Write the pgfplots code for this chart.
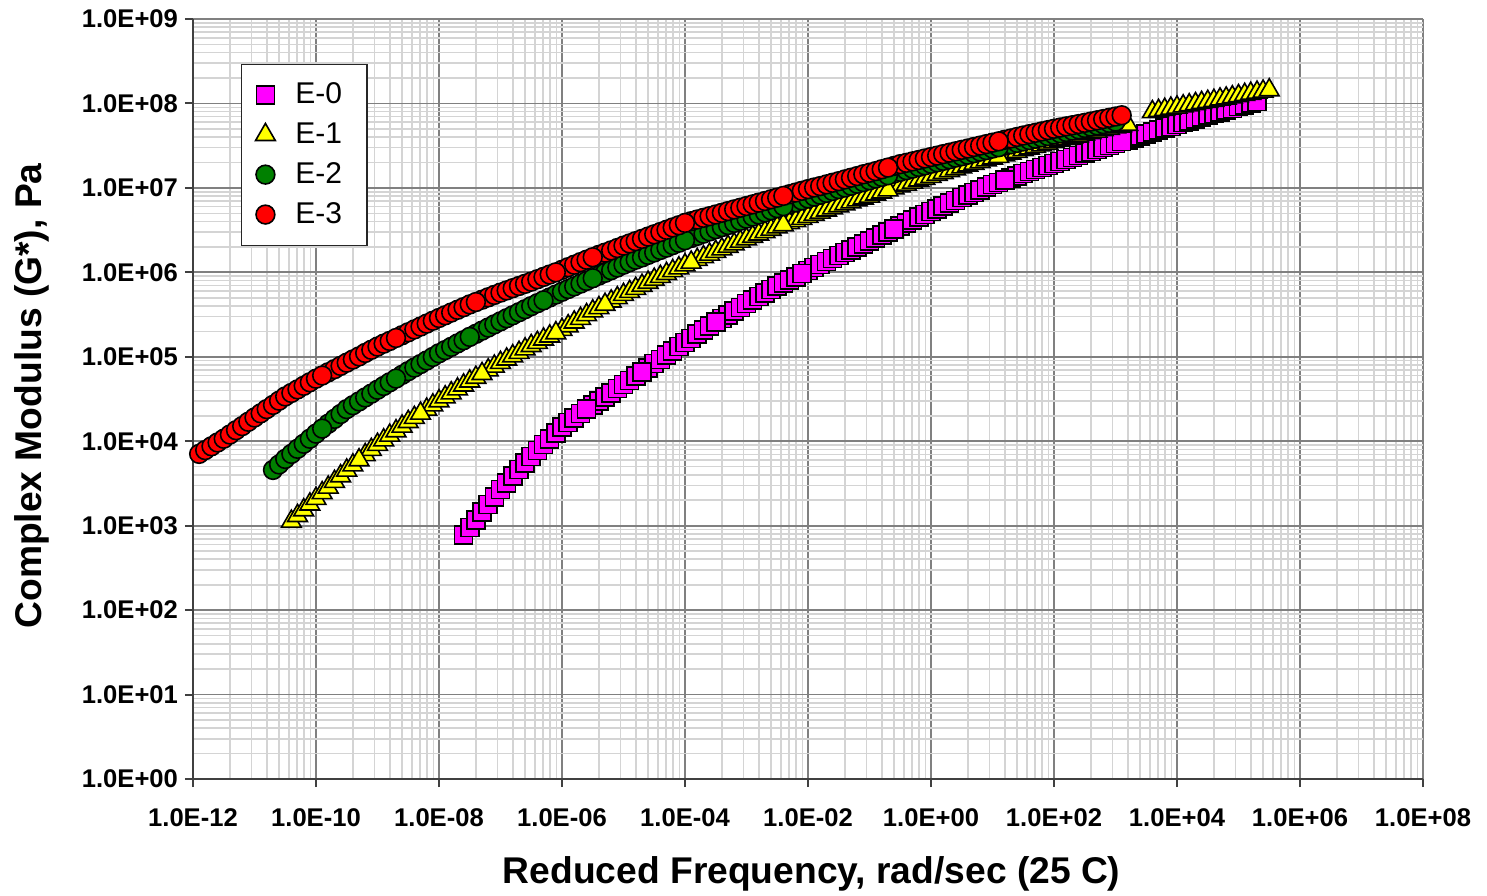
\documentclass[border=0pt]{standalone}
\usepackage{fontspec}
\setmainfont{Liberation Sans}
\usepackage{pgfplots}
\pgfplotsset{compat=1.18}

\definecolor{gridmajor}{RGB}{128,128,128}
\definecolor{gridminor}{RGB}{212,212,212}
\definecolor{axisline}{RGB}{64,64,64}
\definecolor{cE0}{RGB}{255,0,255}
\definecolor{cE1}{RGB}{255,255,0}
\definecolor{cE2}{RGB}{0,128,0}
\definecolor{cE3}{RGB}{255,0,0}

\begin{document}
\begin{tikzpicture}
\useasboundingbox (-96.5pt,-58pt) rectangle (647pt,389.5pt);
\begin{axis}[
  at={(0pt,0pt)}, anchor=south west,
  scale only axis, width=615pt, height=380pt,
  xmode=log, ymode=log,
  xmin=1e-12, xmax=1e8, ymin=1, ymax=1e9,
  axis x line*=bottom, axis y line*=left,
  axis line style={-, axisline, line width=1.1pt},
  tick align=outside,
  major tick length=4pt, minor tick length=0pt,
  tick style={axisline, line width=1pt},
  grid=both,
  major grid style={gridmajor, line width=0.9pt},
  minor grid style={gridminor, line width=0.8pt},
  xtick={1e-12,1e-10,1e-8,1e-6,1e-4,1e-2,1,1e2,1e4,1e6,1e8},
  xticklabels={1.0E-12,1.0E-10,1.0E-08,1.0E-06,1.0E-04,1.0E-02,1.0E+00,1.0E+02,1.0E+04,1.0E+06,1.0E+08},
  minor xtick={4e-12,9e-12,1.6e-11,2.5e-11,3.6e-11,4.9e-11,6.4e-11,8.1e-11,
               4e-10,9e-10,1.6e-9,2.5e-9,3.6e-9,4.9e-9,6.4e-9,8.1e-9,
               4e-8,9e-8,1.6e-7,2.5e-7,3.6e-7,4.9e-7,6.4e-7,8.1e-7,
               4e-6,9e-6,1.6e-5,2.5e-5,3.6e-5,4.9e-5,6.4e-5,8.1e-5,
               4e-4,9e-4,1.6e-3,2.5e-3,3.6e-3,4.9e-3,6.4e-3,8.1e-3,
               0.04,0.09,0.16,0.25,0.36,0.49,0.64,0.81,
               4,9,16,25,36,49,64,81,
               400,900,1600,2500,3600,4900,6400,8100,
               4e4,9e4,1.6e5,2.5e5,3.6e5,4.9e5,6.4e5,8.1e5,
               4e6,9e6,1.6e7,2.5e7,3.6e7,4.9e7,6.4e7,8.1e7},
  ytick={1,1e1,1e2,1e3,1e4,1e5,1e6,1e7,1e8,1e9},
  yticklabels={1.0E+00,1.0E+01,1.0E+02,1.0E+03,1.0E+04,1.0E+05,1.0E+06,1.0E+07,1.0E+08,1.0E+09},
  minor ytick={2,3,4,5,6,7,8,9,
               20,30,40,50,60,70,80,90,
               200,300,400,500,600,700,800,900,
               2e3,3e3,4e3,5e3,6e3,7e3,8e3,9e3,
               2e4,3e4,4e4,5e4,6e4,7e4,8e4,9e4,
               2e5,3e5,4e5,5e5,6e5,7e5,8e5,9e5,
               2e6,3e6,4e6,5e6,6e6,7e6,8e6,9e6,
               2e7,3e7,4e7,5e7,6e7,7e7,8e7,9e7,
               2e8,3e8,4e8,5e8,6e8,7e8,8e8,9e8},
  ticklabel style={font=\bfseries\fontsize{12.8}{14}\selectfont},
  xticklabel style={yshift=-7.5pt},
  xlabel={Reduced Frequency, rad/sec (25 C)},
  ylabel={Complex Modulus (G*), Pa},
  label style={font=\bfseries\fontsize{18.6}{21}\selectfont},
  xlabel style={at={(axis description cs:0.503,-0.138)}, anchor=base},
  ylabel style={at={(axis description cs:-0.131,0.504)}, anchor=center},
  legend style={at={(axis description cs:0.039,0.941)}, anchor=north west,
    draw=black!85, line width=0.6pt, fill=white,
    font=\fontsize{15}{18}\selectfont,
    inner xsep=7pt, inner ysep=7.3pt, row sep=4pt},
  legend cell align=left,
]

% E-0: one block per temperature sweep, highest block first
\addplot[only marks, mark=square*, mark size=4.5pt,
  mark options={fill=cE0, draw=black, line width=0.8pt}] coordinates {
(1580,3.72e7)(2000,3.93e7)(2510,4.14e7)(3160,4.37e7)(3980,4.59e7)(5010,4.83e7)(6310,5.08e7)(7940,5.35e7)(1e4,5.62e7)(1.26e4,5.92e7)(1.58e4,6.22e7)(2e4,6.55e7)(2.51e4,6.89e7)(3.16e4,7.24e7)(3.98e4,7.60e7)(5.01e4,7.97e7)(6.31e4,8.35e7)(7.94e4,8.75e7)(1e5,9.16e7)(1.26e5,9.60e7)(1.58e5,1.01e8)(2e5,1.06e8)
(20,1.31e7)(25.1,1.39e7)(31.6,1.48e7)(39.8,1.56e7)(50.1,1.65e7)(63.1,1.75e7)(79.4,1.85e7)(100,1.95e7)(126,2.06e7)(158,2.18e7)(200,2.30e7)(251,2.43e7)(316,2.57e7)(398,2.71e7)(501,2.86e7)(631,3.01e7)(794,3.18e7)(1000,3.35e7)(1260,3.53e7)
(0.316,3.55e6)(0.398,3.84e6)(0.501,4.15e6)(0.631,4.49e6)(0.794,4.85e6)(1,5.25e6)(1.26,5.66e6)(1.58,6.11e6)(2,6.59e6)(2.51,7.11e6)(3.16,7.67e6)(3.98,8.24e6)(5.01,8.85e6)(6.31,9.51e6)(7.94,1.02e7)(10,1.10e7)(12.6,1.16e7)(15.8,1.24e7)
(0.01,1.05e6)(0.0126,1.14e6)(0.0158,1.24e6)(0.02,1.34e6)(0.0251,1.46e6)(0.0316,1.58e6)(0.0398,1.71e6)(0.0501,1.85e6)(0.0631,2.00e6)(0.0794,2.17e6)(0.1,2.34e6)(0.126,2.55e6)(0.158,2.77e6)(0.2,3.01e6)(0.251,3.27e6)
(3.98e-4,2.84e5)(5.01e-4,3.15e5)(6.31e-4,3.48e5)(7.94e-4,3.85e5)(1e-3,4.27e5)(1.26e-3,4.70e5)(1.58e-3,5.18e5)(2e-3,5.70e5)(2.51e-3,6.28e5)(3.16e-3,6.92e5)(3.98e-3,7.52e5)(5.01e-3,8.17e5)(6.31e-3,8.87e5)(7.94e-3,9.64e5)
(2.51e-5,7.41e4)(3.16e-5,8.32e4)(3.98e-5,9.33e4)(5.01e-5,1.05e5)(6.31e-5,1.17e5)(7.94e-5,1.32e5)(1e-4,1.48e5)(1.26e-4,1.65e5)(1.58e-4,1.85e5)(2e-4,2.06e5)(2.51e-4,2.30e5)(3.16e-4,2.57e5)
(3.16e-6,2.69e4)(3.98e-6,3.01e4)(5.01e-6,3.36e4)(6.31e-6,3.75e4)(7.94e-6,4.19e4)(1e-5,4.68e4)(1.26e-5,5.25e4)(1.58e-5,5.89e4)(2e-5,6.61e4)
(2.51e-8,7.76e2)(3.16e-8,9.55e2)(3.98e-8,1.17e3)(5.01e-8,1.45e3)(6.31e-8,1.78e3)(7.94e-8,2.19e3)(1e-7,2.69e3)(1.26e-7,3.22e3)(1.58e-7,3.85e3)(2e-7,4.61e3)(2.51e-7,5.52e3)(3.16e-7,6.61e3)(3.98e-7,7.76e3)(5.01e-7,9.12e3)(6.31e-7,1.07e4)(7.94e-7,1.26e4)(1e-6,1.48e4)(1.26e-6,1.67e4)(1.58e-6,1.88e4)(2e-6,2.12e4)(2.51e-6,2.39e4)
};
\addlegendentry{\hspace{8pt}E-0\rule{3.5pt}{0pt}}

% E-1
\addplot[only marks, mark=triangle*, mark size=5.7pt,
  mark options={fill=cE1, draw=black, line width=0.8pt}] coordinates {
(3.98e3,7.94e7)(5.01e3,8.20e7)(6.31e3,8.45e7)(7.94e3,8.73e7)(1e4,8.99e7)(1.26e4,9.29e7)(1.58e4,9.57e7)(2e4,9.89e7)(2.51e4,1.02e8)(3.16e4,1.05e8)(3.98e4,1.08e8)(5.01e4,1.12e8)(6.31e4,1.15e8)(7.94e4,1.19e8)(1e5,1.23e8)(1.26e5,1.27e8)(1.58e5,1.31e8)(2e5,1.35e8)(2.51e5,1.39e8)(3.16e5,1.44e8)
(15.8,2.45e7)(20,2.57e7)(25.1,2.69e7)(31.6,2.82e7)(39.8,2.94e7)(50.1,3.08e7)(63.1,3.21e7)(79.4,3.36e7)(100,3.51e7)(126,3.66e7)(158,3.81e7)(200,3.97e7)(251,4.14e7)(316,4.32e7)(398,4.49e7)(501,4.67e7)(631,4.85e7)(794,5.05e7)(1000,5.25e7)(1260,5.43e7)(1580,5.62e7)
(0.251,9.91e6)(0.316,1.05e7)(0.398,1.10e7)(0.501,1.16e7)(0.631,1.23e7)(0.794,1.29e7)(1,1.36e7)(1.26,1.44e7)(1.58,1.51e7)(2,1.59e7)(2.51,1.67e7)(3.16,1.76e7)(3.98,1.85e7)(5.01,1.94e7)(6.31,2.03e7)(7.94,2.13e7)(10,2.24e7)(12.6,2.34e7)
(5.01e-3,3.85e6)(6.31e-3,4.07e6)(7.94e-3,4.32e6)(0.01,4.57e6)(0.0126,4.84e6)(0.0158,5.13e6)(0.02,5.43e6)(0.0251,5.75e6)(0.0316,6.10e6)(0.0398,6.43e6)(0.0501,6.78e6)(0.0631,7.14e6)(0.0794,7.53e6)(0.1,7.94e6)(0.126,8.39e6)(0.158,8.87e6)(0.2,9.38e6)
(1.58e-4,1.41e6)(2e-4,1.52e6)(2.51e-4,1.63e6)(3.16e-4,1.76e6)(3.98e-4,1.88e6)(5.01e-4,2.02e6)(6.31e-4,2.16e6)(7.94e-4,2.32e6)(1e-3,2.48e6)(1.26e-3,2.65e6)(1.58e-3,2.82e6)(2e-3,3.01e6)(2.51e-3,3.21e6)(3.16e-3,3.43e6)(3.98e-3,3.63e6)
(6.31e-6,4.54e5)(7.94e-6,4.97e5)(1e-5,5.43e5)(1.26e-5,5.90e5)(1.58e-5,6.41e5)(2e-5,6.97e5)(2.51e-5,7.57e5)(3.16e-5,8.22e5)(3.98e-5,8.89e5)(5.01e-5,9.61e5)(6.31e-5,1.04e6)(7.94e-5,1.12e6)(1e-4,1.22e6)(1.26e-4,1.31e6)
(1e-6,2.09e5)(1.26e-6,2.31e5)(1.58e-6,2.56e5)(2e-6,2.83e5)(2.51e-6,3.13e5)(3.16e-6,3.47e5)(3.98e-6,3.79e5)(5.01e-6,4.15e5)
(6.31e-8,6.95e4)(7.94e-8,7.69e4)(1e-7,8.51e4)(1.26e-7,9.33e4)(1.58e-7,1.02e5)(2e-7,1.12e5)(2.51e-7,1.23e5)(3.16e-7,1.35e5)(3.98e-7,1.47e5)(5.01e-7,1.61e5)(6.31e-7,1.75e5)(7.94e-7,1.91e5)
(6.31e-9,2.38e4)(7.94e-9,2.67e4)(1e-8,2.99e4)(1.26e-8,3.33e4)(1.58e-8,3.71e4)(2e-8,4.13e4)(2.51e-8,4.60e4)(3.16e-8,5.13e4)(3.98e-8,5.68e4)(5.01e-8,6.28e4)
(6.31e-10,6.89e3)(7.94e-10,7.93e3)(1e-9,9.12e3)(1.26e-9,1.03e4)(1.58e-9,1.17e4)(2e-9,1.32e4)(2.51e-9,1.50e4)(3.16e-9,1.70e4)(3.98e-9,1.90e4)(5.01e-9,2.13e4)
(3.98e-11,1.12e3)(5.01e-11,1.31e3)(6.31e-11,1.53e3)(7.94e-11,1.79e3)(1e-10,2.09e3)(1.26e-10,2.44e3)(1.58e-10,2.84e3)(2e-10,3.32e3)(2.51e-10,3.87e3)(3.16e-10,4.52e3)(3.98e-10,5.20e3)(5.01e-10,5.98e3)
};
\addlegendentry{\hspace{8pt}E-1\rule{3.5pt}{0pt}}

% E-2
\addplot[only marks, mark=*, mark size=4.7pt,
  mark options={fill=cE2, draw=black, line width=0.8pt}] coordinates {
(15.8,3.16e7)(20,3.28e7)(25.1,3.41e7)(31.6,3.55e7)(39.8,3.68e7)(50.1,3.82e7)(63.1,3.96e7)(79.4,4.11e7)(100,4.27e7)(126,4.43e7)(158,4.59e7)(200,4.76e7)(251,4.94e7)(316,5.13e7)(398,5.31e7)(501,5.50e7)(631,5.69e7)(794,5.89e7)(1000,6.10e7)
(0.251,1.48e7)(0.316,1.55e7)(0.398,1.62e7)(0.501,1.69e7)(0.631,1.77e7)(0.794,1.85e7)(1,1.93e7)(1.26,2.01e7)(1.58,2.09e7)(2,2.18e7)(2.51,2.28e7)(3.16,2.37e7)(3.98,2.47e7)(5.01,2.58e7)(6.31,2.69e7)(7.94,2.80e7)(10,2.92e7)(12.6,3.03e7)
(5.01e-3,6.40e6)(6.31e-3,6.75e6)(7.94e-3,7.11e6)(0.01,7.50e6)(0.0126,7.89e6)(0.0158,8.30e6)(0.02,8.73e6)(0.0251,9.18e6)(0.0316,9.66e6)(0.0398,1.01e7)(0.0501,1.06e7)(0.0631,1.12e7)(0.0794,1.17e7)(0.1,1.23e7)(0.126,1.29e7)(0.158,1.35e7)(0.2,1.41e7)
(1.26e-4,2.55e6)(1.58e-4,2.70e6)(2e-4,2.87e6)(2.51e-4,3.05e6)(3.16e-4,3.24e6)(3.98e-4,3.43e6)(5.01e-4,3.63e6)(6.31e-4,3.85e6)(7.94e-4,4.07e6)(1e-3,4.32e6)(1.26e-3,4.57e6)(1.58e-3,4.84e6)(2e-3,5.13e6)(2.51e-3,5.43e6)(3.16e-3,5.75e6)(3.98e-3,6.07e6)
(3.98e-6,9.16e5)(5.01e-6,9.86e5)(6.31e-6,1.06e6)(7.94e-6,1.14e6)(1e-5,1.23e6)(1.26e-5,1.32e6)(1.58e-5,1.41e6)(2e-5,1.50e6)(2.51e-5,1.61e6)(3.16e-5,1.72e6)(3.98e-5,1.84e6)(5.01e-5,1.96e6)(6.31e-5,2.10e6)(7.94e-5,2.24e6)(1e-4,2.40e6)
(6.31e-7,5.04e5)(7.94e-7,5.45e5)(1e-6,5.89e5)(1.26e-6,6.34e5)(1.58e-6,6.82e5)(2e-6,7.35e5)(2.51e-6,7.91e5)(3.16e-6,8.51e5)
(3.98e-8,1.87e5)(5.01e-8,2.04e5)(6.31e-8,2.22e5)(7.94e-8,2.42e5)(1e-7,2.63e5)(1.26e-7,2.86e5)(1.58e-7,3.10e5)(2e-7,3.37e5)(2.51e-7,3.66e5)(3.16e-7,3.98e5)(3.98e-7,4.31e5)(5.01e-7,4.66e5)
(2.51e-9,6.11e4)(3.16e-9,6.76e4)(3.98e-9,7.45e4)(5.01e-9,8.20e4)(6.31e-9,9.04e4)(7.94e-9,9.95e4)(1e-8,1.10e5)(1.26e-8,1.20e5)(1.58e-8,1.31e5)(2e-8,1.44e5)(2.51e-8,1.57e5)(3.16e-8,1.72e5)
(1.58e-10,1.61e4)(2e-10,1.84e4)(2.51e-10,2.10e4)(3.16e-10,2.40e4)(3.98e-10,2.67e4)(5.01e-10,2.96e4)(6.31e-10,3.30e4)(7.94e-10,3.66e4)(1e-9,4.07e4)(1.26e-9,4.51e4)(1.58e-9,4.99e4)(2e-9,5.52e4)
(2e-11,4.57e3)(2.51e-11,5.31e3)(3.16e-11,6.17e3)(3.98e-11,7.08e3)(5.01e-11,8.13e3)(6.31e-11,9.33e3)(7.94e-11,1.07e4)(1e-10,1.23e4)(1.26e-10,1.41e4)
};
\addlegendentry{\hspace{8pt}E-2\rule{3.5pt}{0pt}}

% E-3
\addplot[only marks, mark=*, mark size=4.7pt,
  mark options={fill=cE3, draw=black, line width=0.8pt}] coordinates {
(15.8,3.71e7)(20,3.85e7)(25.1,4.01e7)(31.6,4.17e7)(39.8,4.33e7)(50.1,4.49e7)(63.1,4.66e7)(79.4,4.83e7)(100,5.01e7)(126,5.18e7)(158,5.35e7)(200,5.52e7)(251,5.70e7)(316,5.89e7)(398,6.10e7)(501,6.31e7)(631,6.53e7)(794,6.76e7)(1000,7.00e7)(1260,7.24e7)
(0.251,1.82e7)(0.316,1.91e7)(0.398,1.98e7)(0.501,2.06e7)(0.631,2.14e7)(0.794,2.23e7)(1,2.32e7)(1.26,2.41e7)(1.58,2.51e7)(2,2.61e7)(2.51,2.71e7)(3.16,2.82e7)(3.98,2.93e7)(5.01,3.05e7)(6.31,3.17e7)(7.94,3.30e7)(10,3.43e7)(12.6,3.56e7)
(5.01e-3,8.41e6)(6.31e-3,8.81e6)(7.94e-3,9.23e6)(0.01,9.66e6)(0.0126,1.01e7)(0.0158,1.05e7)(0.02,1.10e7)(0.0251,1.15e7)(0.0316,1.20e7)(0.0398,1.26e7)(0.0501,1.32e7)(0.0631,1.38e7)(0.0794,1.45e7)(0.1,1.51e7)(0.126,1.58e7)(0.158,1.66e7)(0.2,1.74e7)
(1.26e-4,4.03e6)(1.58e-4,4.22e6)(2e-4,4.42e6)(2.51e-4,4.62e6)(3.16e-4,4.84e6)(3.98e-4,5.07e6)(5.01e-4,5.31e6)(6.31e-4,5.56e6)(7.94e-4,5.82e6)(1e-3,6.10e6)(1.26e-3,6.38e6)(1.58e-3,6.68e6)(2e-3,7.00e6)(2.51e-3,7.33e6)(3.16e-3,7.67e6)(3.98e-3,8.04e6)
(3.98e-6,1.61e6)(5.01e-6,1.71e6)(6.31e-6,1.82e6)(7.94e-6,1.94e6)(1e-5,2.07e6)(1.26e-5,2.20e6)(1.58e-5,2.34e6)(2e-5,2.49e6)(2.51e-5,2.65e6)(3.16e-5,2.82e6)(3.98e-5,3.00e6)(5.01e-5,3.19e6)(6.31e-5,3.40e6)(7.94e-5,3.61e6)(1e-4,3.85e6)
(1e-6,1.07e6)(1.26e-6,1.15e6)(1.58e-6,1.23e6)(2e-6,1.32e6)(2.51e-6,1.41e6)(3.16e-6,1.51e6)
(5.01e-8,4.74e5)(6.31e-8,5.06e5)(7.94e-8,5.40e5)(1e-7,5.75e5)(1.26e-7,6.11e5)(1.58e-7,6.49e5)(2e-7,6.89e5)(2.51e-7,7.31e5)(3.16e-7,7.76e5)(3.98e-7,8.28e5)(5.01e-7,8.83e5)(6.31e-7,9.42e5)(7.94e-7,1.00e6)
(2.51e-9,1.80e5)(3.16e-9,1.95e5)(3.98e-9,2.11e5)(5.01e-9,2.28e5)(6.31e-9,2.47e5)(7.94e-9,2.67e5)(1e-8,2.88e5)(1.26e-8,3.10e5)(1.58e-8,3.34e5)(2e-8,3.60e5)(2.51e-8,3.87e5)(3.16e-8,4.17e5)(3.98e-8,4.45e5)
(1.58e-10,6.55e4)(2e-10,7.14e4)(2.51e-10,7.80e4)(3.16e-10,8.51e4)(3.98e-10,9.29e4)(5.01e-10,1.01e5)(6.31e-10,1.11e5)(7.94e-10,1.21e5)(1e-9,1.32e5)(1.26e-9,1.43e5)(1.58e-9,1.54e5)(2e-9,1.67e5)
(1.26e-12,7.08e3)(1.58e-12,7.85e3)(2e-12,8.71e3)(2.51e-12,9.66e3)(3.16e-12,1.07e4)(3.98e-12,1.20e4)(5.01e-12,1.35e4)(6.31e-12,1.51e4)(7.94e-12,1.70e4)(1e-11,1.91e4)(1.26e-11,2.14e4)(1.58e-11,2.40e4)(2e-11,2.69e4)(2.51e-11,3.02e4)(3.16e-11,3.39e4)(3.98e-11,3.73e4)(5.01e-11,4.11e4)(6.31e-11,4.53e4)(7.94e-11,4.99e4)(1e-10,5.50e4)(1.26e-10,6.00e4)
};
\addlegendentry{\hspace{8pt}E-3\rule{3.5pt}{0pt}}

\end{axis}
\end{tikzpicture}
\end{document}
